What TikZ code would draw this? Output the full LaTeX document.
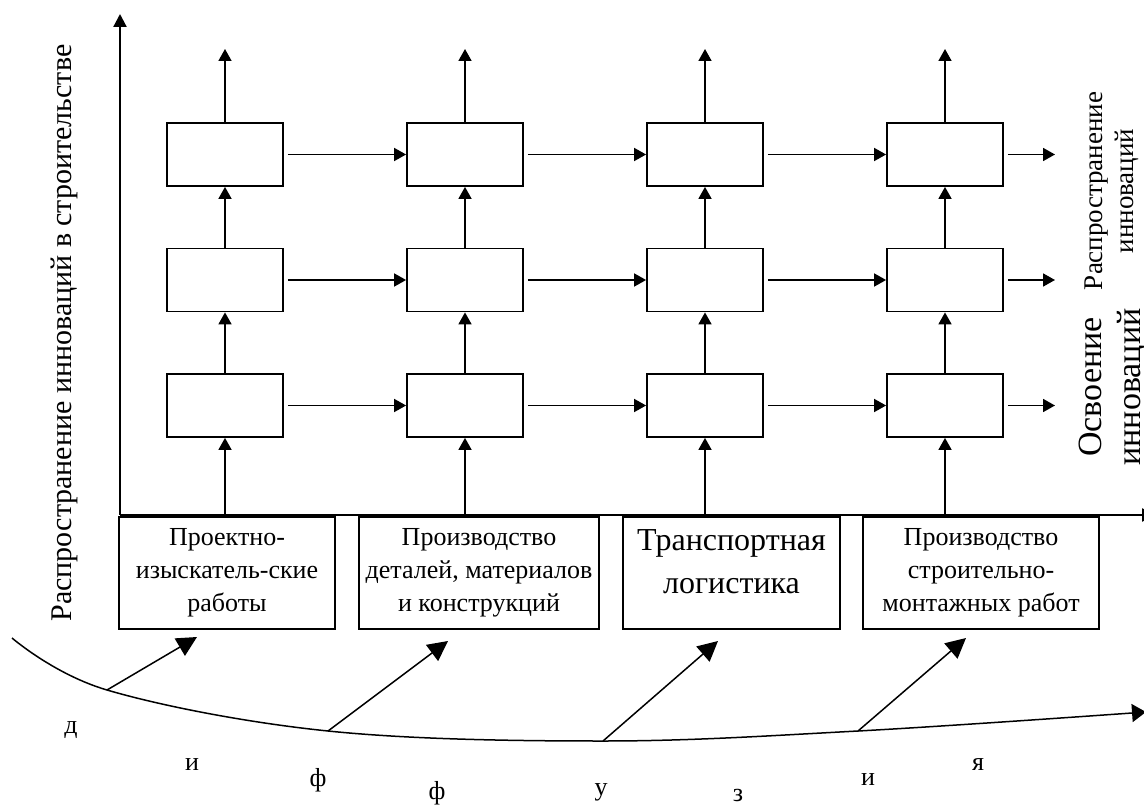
\documentclass[tikz,border=0pt]{standalone}
\usepackage{fontspec}
\setmainfont{Liberation Serif}
\usetikzlibrary{arrows.meta}

\begin{document}
\begin{tikzpicture}[x=0.5pt,y=-0.5pt,
        cell/.style={draw,line width=0.9pt,minimum width=58pt,minimum height=31.5pt,inner sep=0pt},
        stage/.style={draw,line width=0.9pt,minimum height=56pt,inner sep=2pt,align=center,font=\fontsize{13}{16.5}\selectfont},
        arr/.style={line width=0.85pt,-{Triangle[length=6pt,width=6.5pt]}},
        axis/.style={line width=1.1pt,-{Triangle[length=6.5pt,width=6.5pt]}},
        push/.style={line width=0.75pt,-{Triangle[length=10pt,width=10pt]}},
        letter/.style={font=\fontsize{13}{16}\selectfont}]
        \useasboundingbox (0,0) rectangle (1144,807);
        % axes
        \coordinate (o) at (120,515);
        \coordinate (ytop) at (120,14);
        \coordinate (xend) at (1155,515);
        \draw[axis] (o) -- (ytop);
        \draw[axis] (o) -- (xend);
        \node[rotate=90,anchor=base,font=\fontsize{15}{18}\selectfont] (ylab) at (71,333) {Распространение инноваций в строительстве};
        % grid of cells
        \foreach \i in {1,...,4} {
            \foreach \j in {1,2,3}
                \node[cell] (b\i\j) at ({225+240*(\i-1)},{29+125.5*\j}) {};
            \coordinate (a\i) at ({225+240*(\i-1)},515);
            \coordinate (t\i) at ({225+240*(\i-1)},49);
            \draw[arr] (a\i) -- (b\i3.south);
            \draw[arr] (b\i3.north) -- (b\i2.south);
            \draw[arr] (b\i2.north) -- (b\i1.south);
            \draw[arr] (b\i1.north) -- (t\i);
        }
        \foreach \j in {1,2,3} {
            \coordinate (r\j) at (1055,{29+125.5*\j});
            \draw[arr,shorten <=2pt] (b1\j.east) -- (b2\j.west);
            \draw[arr,shorten <=2pt] (b2\j.east) -- (b3\j.west);
            \draw[arr,shorten <=2pt] (b3\j.east) -- (b4\j.west);
            \draw[arr,shorten <=2pt] (b4\j.east) -- (r\j);
        }
        % stages
        \node[stage,minimum width=108pt] (l1) at (227,573) {Проектно-\\изыскатель-ские\\работы};
        \node[stage,minimum width=120pt] (l2) at (479,573) {Производство\\деталей, материалов\\и конструкций};
        \node[stage,minimum width=108.5pt,label={[anchor=north,yshift=-3pt,align=center,font=\fontsize{16}{21.5}\selectfont]north:{Транспортная\\логистика}}] (l3) at (731.5,573) {};
        \node[stage,minimum width=118pt] (l4) at (981,573) {Производство\\строительно-\\монтажных работ};
        % right labels
        \node[rotate=90,align=center,font=\fontsize{13.5}{15.5}\selectfont] (spread) at (1112,191) {Распространение\\инноваций};
        \node[rotate=90,align=center,font=\fontsize{17}{19.5}\selectfont] (adopt) at (1113,387) {Освоение\\инноваций};
        % diffusion curve
        \coordinate (s0) at (12,638);
        \coordinate (d1) at (107,690);
        \coordinate (d2) at (328,731);
        \coordinate (d3) at (603,741);
        \coordinate (d4) at (858,731);
        \coordinate (s5) at (1146,712);
        \draw[line width=0.75pt,-{Triangle[length=7pt,width=9pt]}] plot[smooth,tension=0.6] coordinates {(s0) (d1) (d2) (d3) (d4) (s5)};
        \coordinate (e1) at (197,637);
        \coordinate (e2) at (448,641);
        \coordinate (e3) at (718,641);
        \coordinate (e4) at (966,638);
        \draw[push] (d1) -- (e1);
        \draw[push] (d2) -- (e2);
        \draw[push] (d3) -- (e3);
        \draw[push] (d4) -- (e4);
        % letters
        \node[letter] (c1) at (71,730) {д};
        \node[letter] (c2) at (192,765) {и};
        \node[letter] (c3) at (318,780) {ф};
        \node[letter] (c4) at (437,793) {ф};
        \node[letter] (c5) at (601,792) {у};
        \node[letter] (c6) at (738,795) {з};
        \node[letter] (c7) at (868,780) {и};
        \node[letter] (c8) at (978,765) {я};
    \end{tikzpicture}
\end{document}
